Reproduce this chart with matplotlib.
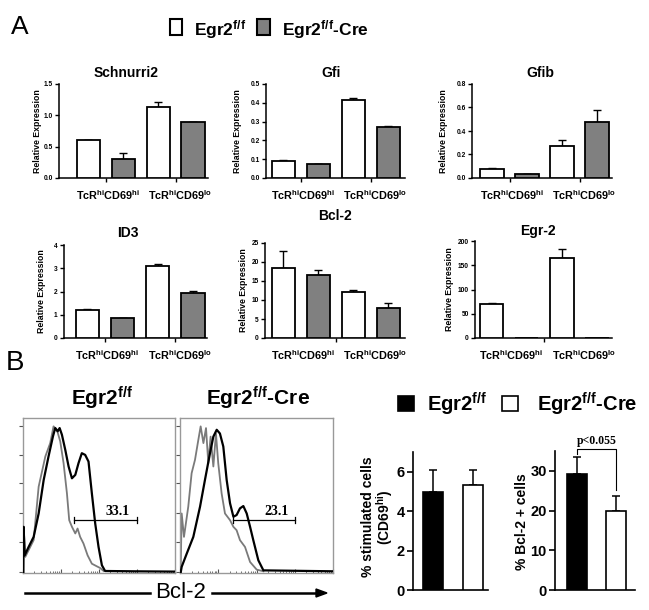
import numpy as np
import matplotlib
matplotlib.use('Agg')
import matplotlib.pyplot as plt
from matplotlib import font_manager as fm
from matplotlib.patches import Rectangle, Polygon
from matplotlib.lines import Line2D


def has_font(name):
    try:
        fm.findfont(fm.FontProperties(family=name), fallback_to_default=False)
        return True
    except Exception:
        return False


NARROW = 'Liberation Sans Narrow' if has_font('Liberation Sans Narrow') else 'Liberation Sans'
SANS = 'Liberation Sans'
SERIF = 'Liberation Serif'

plt.rcParams['font.family'] = SANS
plt.rcParams['mathtext.fontset'] = 'custom'
plt.rcParams['mathtext.rm'] = SANS
plt.rcParams['mathtext.bf'] = SANS + ':bold'
plt.rcParams['mathtext.it'] = SANS + ':italic'

# ---------------- data: panel A ----------------
genes = ['Schnurri2', 'Gfi', 'Gfib', 'ID3', 'Bcl-2', 'Egr-2']
groups = ['TcR$^{\\mathbf{hi}}$CD69$^{\\mathbf{hi}}$', 'TcR$^{\\mathbf{hi}}$CD69$^{\\mathbf{lo}}$']
wt_mean = [[0.60, 1.13], [0.093, 0.415], [0.08, 0.27], [1.20, 3.08], [18.5, 12.1], [71, 165]]
wt_err = [[0.01, 0.09], [0.004, 0.010], [0.005, 0.05], [0.05, 0.10], [4.4, 0.5], [1.0, 18]]
cre_mean = [[0.31, 0.89], [0.072, 0.270], [0.03, 0.48], [0.85, 1.93], [16.6, 7.9], [0, 0]]
cre_err = [[0.09, 0.01], [0.001, 0.004], [0.003, 0.10], [0.02, 0.08], [1.3, 1.4], [0, 0]]
y_max = [1.5, 0.5, 0.8, 4, 25, 200]
y_step = [0.5, 0.1, 0.2, 1, 5, 50]

# ---------------- data: panel B ----------------
stim_mean = [4.95, 5.35]
stim_err = [1.15, 0.75]
bcl2_pct_mean = [29.2, 19.9]
bcl2_pct_err = [4.3, 3.8]
p_value_label = 'p<0.055'

# histogram traces (x: fraction of log scale, y: fraction of max)
h1_black_x = [0.002, 0.004, 0.011, 0.037, 0.070, 0.103, 0.136, 0.168, 0.197, 0.212, 0.228, 0.241, 0.256, 0.278,
              0.300, 0.322, 0.344, 0.365, 0.387, 0.409, 0.431, 0.453, 0.475, 0.497, 0.519, 0.540, 0.726, 1.0]
h1_black_y = [0.0, 0.298, 0.114, 0.168, 0.233, 0.384, 0.600, 0.752, 0.881, 0.935, 0.914, 0.935, 0.892, 0.795,
              0.687, 0.611, 0.633, 0.708, 0.773, 0.762, 0.719, 0.514, 0.320, 0.168, 0.050, 0.013, 0.011, 0.009]
h1_gray_x = [0.002, 0.004, 0.015, 0.070, 0.103, 0.147, 0.179, 0.201, 0.223, 0.245, 0.267, 0.289, 0.304, 0.322,
             0.344, 0.359, 0.376, 0.398, 0.425, 0.453, 0.486, 0.508, 0.530]
h1_gray_y = [0.0, 0.298, 0.104, 0.212, 0.557, 0.752, 0.838, 0.946, 0.924, 0.849, 0.708, 0.514, 0.341, 0.298,
             0.255, 0.287, 0.233, 0.190, 0.114, 0.060, 0.043, 0.032, 0.013]
h2_black_x = [0.004, 0.011, 0.044, 0.087, 0.131, 0.163, 0.196, 0.218, 0.240, 0.261, 0.283, 0.305, 0.327, 0.349,
              0.370, 0.392, 0.414, 0.436, 0.458, 0.479, 0.512, 0.545, 1.0]
h2_black_y = [0.0, 0.040, 0.125, 0.233, 0.428, 0.600, 0.773, 0.880, 0.924, 0.900, 0.816, 0.600, 0.450, 0.363,
              0.374, 0.417, 0.432, 0.384, 0.298, 0.212, 0.082, 0.017, 0.011]
h2_gray_x = [0.004, 0.011, 0.026, 0.054, 0.076, 0.098, 0.120, 0.135, 0.153, 0.170, 0.185, 0.200, 0.218, 0.235,
             0.250, 0.272, 0.294, 0.327, 0.349, 0.370, 0.392, 0.425, 0.458, 0.501, 0.545]
h2_gray_y = [0.0, 0.384, 0.233, 0.428, 0.644, 0.730, 0.860, 0.946, 0.838, 0.935, 0.708, 0.880, 0.687, 0.900,
             0.708, 0.514, 0.384, 0.341, 0.298, 0.276, 0.212, 0.168, 0.071, 0.022, 0.011]
gate1 = (0.337, 0.748, 0.34)
gate2 = (0.349, 0.752, 0.34)
gate_labels = ['33.1', '23.1']
hist_titles = ['Egr2$^{\\mathbf{f/f}}$', 'Egr2$^{\\mathbf{f/f}}$-Cre']

# ---------------- figure ----------------
W, H = 649, 610
fig = plt.figure(figsize=(W / 100, H / 100), dpi=100)


def ax_px(l, t, r, b):
    return fig.add_axes([l / W, 1 - b / H, (r - l) / W, (b - t) / H])


def ftext(x, y, s, **kw):
    return fig.text(x / W, 1 - y / H, s, **kw)


GRAY = '#808080'

# panel A layout (pixels)
a_boxes = [(59, 84, 208, 178), (266, 84, 405, 178), (472, 84, 612, 178),
           (64, 245, 207, 338), (265, 243, 405, 338), (475, 241, 612, 338)]
a_xlims = [(-0.51, 5.89), (0.0, 5.96), (-0.11, 5.89), (-0.25, 5.85), (-0.04, 5.96), (0.04, 5.89)]
a_titles_xy = [(126, 73), (331, 73), (540, 73), (128, 233), (335, 216), (538, 231)]
a_ylab_x = [38, 237, 444, 41, 243, 450]
wt_x = np.array([0.75, 3.75])
cre_x = np.array([2.25, 5.25])

for i, g in enumerate(genes):
    l, t, r, b = a_boxes[i]
    ax = ax_px(l, t, r, b)
    ax.bar(wt_x, wt_mean[i], width=1.0, color='white', edgecolor='black', linewidth=1.3, zorder=3)
    ax.bar(cre_x, cre_mean[i], width=1.0, color=GRAY, edgecolor='black', linewidth=1.3, zorder=3)
    ax.errorbar(wt_x, wt_mean[i], yerr=[np.zeros(2), wt_err[i]], fmt='none', ecolor='black',
                elinewidth=1.0, capsize=3, capthick=1.0, zorder=2)
    if max(cre_mean[i]) > 0:
        ax.errorbar(cre_x, cre_mean[i], yerr=[np.zeros(2), cre_err[i]], fmt='none', ecolor='black',
                    elinewidth=1.0, capsize=3, capthick=1.0, zorder=2)
    ax.set_xlim(*a_xlims[i])
    ax.set_ylim(0, y_max[i])
    ticks = np.arange(0, y_max[i] + y_step[i] / 2, y_step[i])
    ax.set_yticks(ticks)
    if y_step[i] < 1:
        ax.set_yticklabels(['%.1f' % v for v in ticks])
    else:
        ax.set_yticklabels(['%d' % v for v in ticks])
    if i < 4:
        ax.set_xticks([1.5, 4.5])
    else:
        ax.set_xticks([3.0])
    ax.set_xticklabels([])
    for s in ['top', 'right']:
        ax.spines[s].set_visible(False)
    for s in ['left', 'bottom']:
        ax.spines[s].set_linewidth(1.1)
    ax.tick_params(axis='both', direction='out', length=3, width=1.0, labelsize=4.8, pad=1.5)
    for lab in ax.get_yticklabels():
        lab.set_fontweight('bold')
    for gx, gl, dx in zip([1.5, 4.5], groups, [2.0, 4.5]):
        ax.annotate(gl, xy=(gx, 0), xycoords=('data', 'axes fraction'), xytext=(dx * 0.72, -12.3),
                    textcoords='offset points', ha='center', va='center', fontsize=7.8,
                    fontweight='bold', family=NARROW)
    tx, ty = a_titles_xy[i]
    ftext(tx, ty, g, ha='center', va='center', fontsize=10, fontweight='bold', family=NARROW)
    ftext(a_ylab_x[i], (t + b) / 2, 'Relative Expression', ha='center', va='center', rotation=90,
          fontsize=6.3, fontweight='bold', family=NARROW)

# panel letters and panel A legend
ftext(20, 27, 'A', ha='center', va='center', fontsize=19, family=NARROW)
ftext(15, 363, 'B', ha='center', va='center', fontsize=20, family=SANS)
fig.patches.append(Rectangle((170 / W, 1 - 35 / H), 12 / W, 16 / H, transform=fig.transFigure,
                             facecolor='white', edgecolor='black', linewidth=1.5))
fig.patches.append(Rectangle((257 / W, 1 - 35 / H), 13 / W, 16 / H, transform=fig.transFigure,
                             facecolor=GRAY, edgecolor='black', linewidth=1.5))
ftext(194, 35, 'Egr2$^{\\mathbf{f/f}}$', ha='left', va='baseline', fontsize=12.5, fontweight='bold',
      family=NARROW)
ftext(282, 35, 'Egr2$^{\\mathbf{f/f}}$-Cre', ha='left', va='baseline', fontsize=12.5, fontweight='bold',
      family=NARROW)

# ---------------- panel B histograms ----------------
hist_boxes = [(23, 418, 175, 573), (180, 418, 333, 573)]
hist_data = [(h1_gray_x, h1_gray_y, h1_black_x, h1_black_y), (h2_gray_x, h2_gray_y, h2_black_x, h2_black_y)]
gates = [gate1, gate2]
hist_title_x = [102, 258]
minor_pos = []
for d in range(4):
    for k in range(2, 10):
        minor_pos.append((d + np.log10(k)) / 4)
for j in range(2):
    l, t, r, b = hist_boxes[j]
    ax = ax_px(l, t, r, b)
    gx, gy, bx, by = hist_data[j]
    ax.plot(gx, gy, color='#7a7a7a', linewidth=1.3, zorder=2)
    ax.plot(bx, by, color='black', linewidth=1.6, zorder=3)
    x0, x1, yg = gates[j]
    ax.plot([x0, x1], [yg, yg], color='black', linewidth=0.9)
    ax.plot([x0, x0], [yg - 0.02, yg + 0.02], color='black', linewidth=0.9)
    ax.plot([x1, x1], [yg - 0.02, yg + 0.02], color='black', linewidth=0.9)
    ax.text(x0 + (x1 - x0) * 0.7, yg + 0.015, gate_labels[j], ha='center', va='bottom', fontsize=10,
            fontweight='bold', family=SERIF)
    ax.set_xlim(0, 1)
    ax.set_ylim(0, 1)
    ax.set_yticks([0.006, 0.2, 0.384, 0.579, 0.762, 0.946])
    ax.set_xticks([0, 0.25, 0.5, 0.75, 1.0])
    ax.set_xticks(minor_pos, minor=True)
    ax.set_xticklabels([])
    ax.set_yticklabels([])
    ax.tick_params(axis='y', direction='out', length=3, width=0.8, color='#555555')
    ax.tick_params(axis='x', which='major', direction='in', length=3, width=0.8, color='#555555')
    ax.tick_params(axis='x', which='minor', direction='in', length=1.5, width=0.6, color='#555555')
    for s in ax.spines.values():
        s.set_color('#999999')
        s.set_linewidth(1.0)
    ftext(hist_title_x[j], 398, hist_titles[j], ha='center', va='center', fontsize=15, fontweight='bold')

# Bcl-2 arrow axis label
fig.add_artist(Line2D([25 / W, 150 / W], [1 - 593 / H, 1 - 593 / H], color='black', linewidth=1.8))
fig.add_artist(Line2D([212 / W, 318 / W], [1 - 593 / H, 1 - 593 / H], color='black', linewidth=1.8))
fig.patches.append(Polygon([[316 / W, 1 - 589 / H], [327 / W, 1 - 593 / H], [316 / W, 1 - 597 / H]],
                           closed=True, transform=fig.transFigure, color='black'))
ftext(181, 593, 'Bcl-2', ha='center', va='center', fontsize=16)

# ---------------- panel B bar charts ----------------
fig.patches.append(Rectangle((398 / W, 1 - 411 / H), 16 / W, 15 / H, transform=fig.transFigure,
                             facecolor='black', edgecolor='black', linewidth=1.2))
fig.patches.append(Rectangle((502 / W, 1 - 411 / H), 16 / W, 15 / H, transform=fig.transFigure,
                             facecolor='white', edgecolor='black', linewidth=1.2))
ftext(427, 411, 'Egr2$^{\\mathbf{f/f}}$', ha='left', va='baseline', fontsize=14.5, fontweight='bold')
ftext(537, 411, 'Egr2$^{\\mathbf{f/f}}$-Cre', ha='left', va='baseline', fontsize=14.5, fontweight='bold')

bar_boxes = [(413, 452, 488, 590), (555, 451, 635, 590)]
bar_means = [stim_mean, bcl2_pct_mean]
bar_errs = [stim_err, bcl2_pct_err]
bar_x = [np.array([1.0, 3.0]), np.array([1.1, 3.05])]
bar_xlim = [(0, 3.75), (0, 4.0)]
bar_ylim = [7, 35]
bar_ticks = [[0, 2, 4, 6], [0, 10, 20, 30]]
axes_b = []
for k in range(2):
    l, t, r, b = bar_boxes[k]
    ax = ax_px(l, t, r, b)
    axes_b.append(ax)
    ax.bar(bar_x[k], bar_means[k], width=1.0, color=['black', 'white'], edgecolor='black', linewidth=1.2,
           zorder=3)
    ax.errorbar(bar_x[k], bar_means[k], yerr=[np.zeros(2), bar_errs[k]], fmt='none', ecolor='black',
                elinewidth=1.1, capsize=3, capthick=1.1, zorder=2)
    ax.set_xlim(*bar_xlim[k])
    ax.set_ylim(0, bar_ylim[k])
    ax.set_yticks(bar_ticks[k])
    ax.set_xticks([])
    for s in ['top', 'right']:
        ax.spines[s].set_visible(False)
    for s in ['left', 'bottom']:
        ax.spines[s].set_linewidth(1.2)
    ax.tick_params(axis='y', direction='out', length=4, width=1.2, labelsize=10.5, pad=2)
    for lab in ax.get_yticklabels():
        lab.set_fontweight('bold')

# y labels panel B
ftext(368, 517, '% stimulated cells', ha='center', va='center', rotation=90, fontsize=10, fontweight='bold')
ftext(385, 517, '(CD69$^{\\mathbf{hi}}$)', ha='center', va='center', rotation=90, fontsize=10,
      fontweight='bold')
ftext(522, 522, '% Bcl-2 + cells', ha='center', va='center', rotation=90, fontsize=10, fontweight='bold')

# significance bracket
axb = axes_b[1]
xb0, xb1 = bar_x[1]
ybr = 35.4
axb.plot([xb0, xb0, xb1, xb1],
         [bcl2_pct_mean[0] + bcl2_pct_err[0] + 0.7, ybr, ybr, bcl2_pct_mean[1] + bcl2_pct_err[1] + 1.5],
         color='black', linewidth=0.8, clip_on=False)
axb.text((xb0 + xb1) / 2, ybr + 0.6, p_value_label, ha='center', va='bottom', fontsize=8.5,
         fontweight='bold', family=SERIF, clip_on=False)

fig.savefig('out.png', dpi=100)
